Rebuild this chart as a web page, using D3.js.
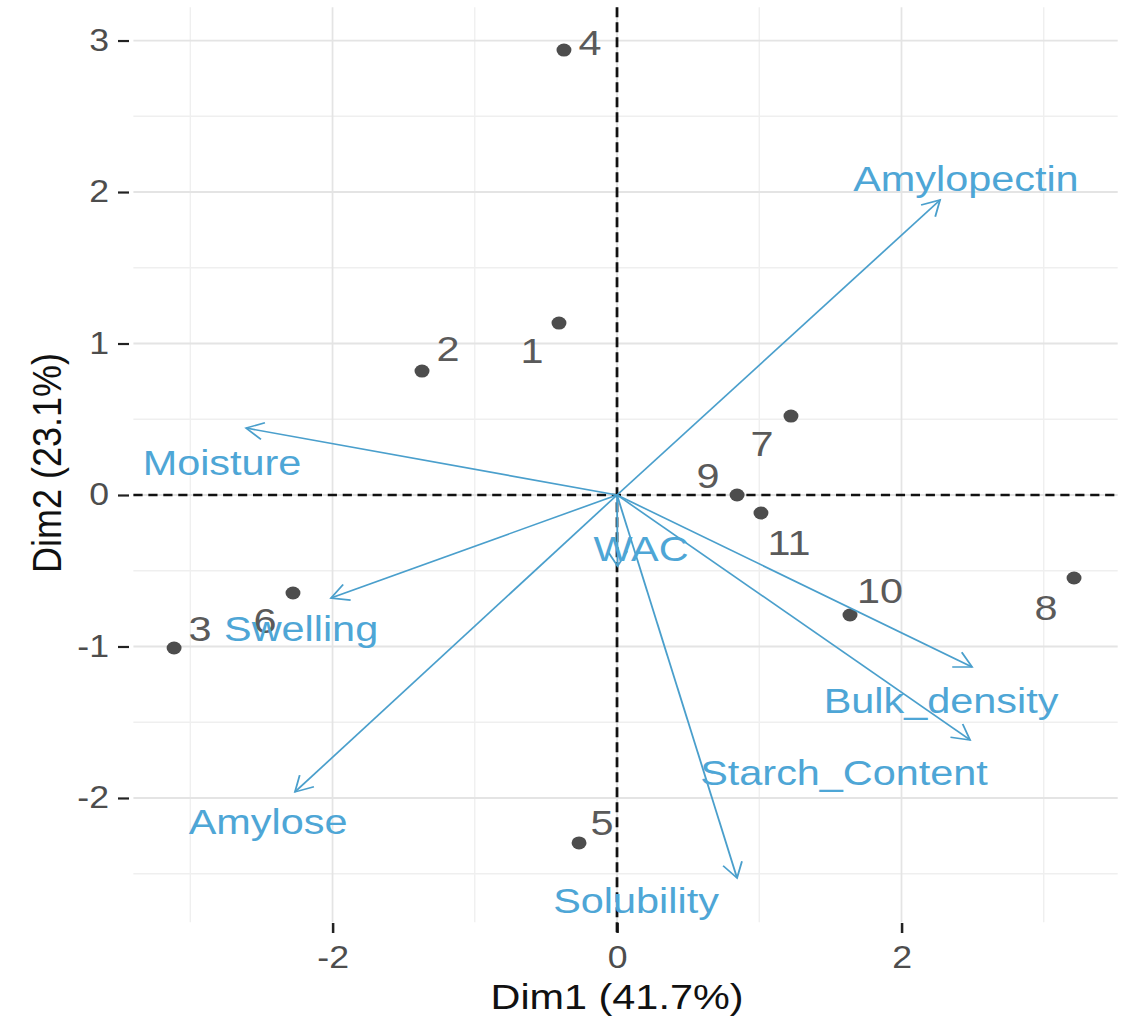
<!DOCTYPE html>
<html>
<head>
<meta charset="utf-8">
<script src="https://cdn.jsdelivr.net/npm/d3@7"></script>
<style>
  html, body { margin: 0; padding: 0; background: #fff; }
  svg { display: block; font-family: "Liberation Sans", Arial, sans-serif; }
</style>
</head>
<body>
<div id="chart"></div>
<script>
// individuals (PCA scores)
var indNames = ["1","2","3","4","5","6","7","8","9","10","11"];
var indX = [-0.408, -1.371, -3.114, -0.373, -0.267, -2.278, 1.223, 3.213, 0.844, 1.638, 1.012];
var indY = [1.135, 0.818, -1.010, 2.937, -2.297, -0.647, 0.521, -0.548, 0.000, -0.792, -0.119];
// where the (repelled) labels ended up, in data units
var indLabX = [-0.598, -1.188, -2.931, -0.190, -0.105, -2.475, 1.019, 3.016, 0.640, 1.849, 1.209];
var indLabY = [0.957, 0.970, -0.878, 2.990, -2.158, -0.825, 0.343, -0.739, 0.132, -0.627, -0.310];

// variables (scaled loadings)
var varNames = ["Amylopectin","Moisture","Swelling","Amylose","WAC","Solubility","Starch_Content","Bulk_density"];
var varX = [2.271, -2.608, -2.011, -2.264, 0.004, 0.844, 2.482, 2.496];
var varY = [1.947, 0.442, -0.680, -1.960, -0.470, -2.528, -1.617, -1.135];
var varLabX = [2.453, -2.777, -2.221, -2.453, 0.169, 0.134, 1.596, 2.278];
var varLabY = [2.092, 0.218, -0.878, -2.152, -0.350, -2.673, -1.828, -1.353];

var xTicks = [-2, 0, 2];
var yTicks = [-2, -1, 0, 1, 2, 3];
var xMinor = [-3, -1, 1, 3];
var yMinor = [-2.5, -1.5, -0.5, 0.5, 1.5, 2.5];
var xTitle = "Dim1 (41.7%)";
var yTitle = "Dim2 (23.1%)";

var width = 1127, height = 1017;
var sx = 1.15;               // the picture is stretched sideways
var vw = width / sx;

var svg = d3.select("#chart").append("svg")
  .attr("width", width)
  .attr("height", height)
  .attr("viewBox", "0 0 " + vw + " " + height)
  .attr("preserveAspectRatio", "none");

var x = d3.scaleLinear().domain([-3.40, 3.52]).range([133.4 / sx, 1117.7 / sx]);
var y = d3.scaleLinear().domain([-2.82, 3.22]).range([922.2, 7.2]);
var x0 = x.range()[0], x1 = x.range()[1], y0 = y.range()[0], y1 = y.range()[1];

// grid
var grid = svg.append("g");
grid.selectAll(".mx").data(xMinor).enter().append("line")
  .attr("x1", d => x(d)).attr("x2", d => x(d)).attr("y1", y1).attr("y2", y0)
  .attr("stroke", "#efefef").attr("stroke-width", 1.2);
grid.selectAll(".my").data(yMinor).enter().append("line")
  .attr("y1", d => y(d)).attr("y2", d => y(d)).attr("x1", x0).attr("x2", x1)
  .attr("stroke", "#efefef").attr("stroke-width", 1.4);
grid.selectAll(".gx").data(xTicks).enter().append("line")
  .attr("x1", d => x(d)).attr("x2", d => x(d)).attr("y1", y1).attr("y2", y0)
  .attr("stroke", "#e4e4e4").attr("stroke-width", 1.5);
grid.selectAll(".gy").data(yTicks).enter().append("line")
  .attr("y1", d => y(d)).attr("y2", d => y(d)).attr("x1", x0).attr("x2", x1)
  .attr("stroke", "#e4e4e4").attr("stroke-width", 1.8);

// axes
var fmt = function(d) { return String(d); };
var yAxis = svg.append("g")
  .attr("transform", "translate(" + (129 / sx) + ",0)")
  .call(d3.axisLeft(y).tickValues(yTicks).tickFormat(fmt)
    .tickSize(11 / sx).tickPadding(9 / sx).tickSizeOuter(0));
var xAxis = svg.append("g")
  .attr("transform", "translate(0,923)")
  .call(d3.axisBottom(x).tickValues(xTicks).tickFormat(fmt)
    .tickSize(10).tickPadding(13).tickSizeOuter(0));
[xAxis, yAxis].forEach(function(a) {
  a.select(".domain").remove();
  a.selectAll(".tick line").attr("stroke", "#222").attr("stroke-width", 2.2);
  a.selectAll(".tick text").attr("fill", "#4d4d4d").style("font-size", "31px")
    .style("font-family", "'Liberation Sans', Arial, sans-serif");
});

// zero reference lines
svg.append("line")
  .attr("x1", x0).attr("x2", x1).attr("y1", y(0)).attr("y2", y(0))
  .attr("stroke", "#111").attr("stroke-width", 2.6).attr("stroke-dasharray", "8,5");
svg.append("line")
  .attr("x1", x(0)).attr("x2", x(0)).attr("y1", y1).attr("y2", 933)
  .attr("stroke", "#111").attr("stroke-width", 2.4).attr("stroke-dasharray", "10,5");

// individuals
var ind = indNames.map(function(n, i) {
  return { name: n, x: indX[i], y: indY[i], lx: indLabX[i], ly: indLabY[i] };
});
svg.selectAll(".pt").data(ind).enter().append("circle")
  .attr("cx", d => x(d.x)).attr("cy", d => y(d.y)).attr("r", 6.5)
  .attr("fill", "#4d4d4d");
svg.selectAll(".ptlab").data(ind).enter().append("text")
  .attr("x", d => x(d.lx)).attr("y", d => y(d.ly)).attr("dy", "0.36em")
  .attr("text-anchor", "middle")
  .attr("fill", "#5a5a5a").style("font-size", "36px")
  .text(d => d.name);

// variables
var varCol = "#4a9fcc";
svg.append("defs").append("marker")
  .attr("id", "head")
  .attr("markerUnits", "userSpaceOnUse")
  .attr("viewBox", "-20 -12 24 24")
  .attr("markerWidth", 24).attr("markerHeight", 24)
  .attr("refX", 0).attr("refY", 0)
  .attr("orient", "auto")
  .append("path")
  .attr("d", "M-15,-8.5L0,0L-15,8.5")
  .attr("fill", "none").attr("stroke", varCol).attr("stroke-width", 1.6);

var vars = varNames.map(function(n, i) {
  return { name: n, x: varX[i], y: varY[i], lx: varLabX[i], ly: varLabY[i] };
});
svg.selectAll(".arr").data(vars).enter().append("line")
  .attr("x1", x(0)).attr("y1", y(0))
  .attr("x2", d => x(d.x)).attr("y2", d => y(d.y))
  .attr("stroke", varCol).attr("stroke-width", 1.6)
  .attr("marker-end", "url(#head)");
svg.selectAll(".varlab").data(vars).enter().append("text")
  .attr("x", d => x(d.lx)).attr("y", d => y(d.ly)).attr("dy", "0.36em")
  .attr("text-anchor", "middle")
  .attr("fill", "#4ea6d6").style("font-size", "36px")
  .text(d => d.name);

// axis titles
svg.append("text")
  .attr("x", 617 / sx).attr("y", 1009)
  .attr("text-anchor", "middle").attr("fill", "#111").style("font-size", "36px")
  .text(xTitle);
svg.append("text")
  .attr("transform", "translate(" + (61 / sx) + ",463) rotate(-90)")
  .attr("text-anchor", "middle").attr("fill", "#111").style("font-size", "36px")
  .text(yTitle);
</script>
</body>
</html>
